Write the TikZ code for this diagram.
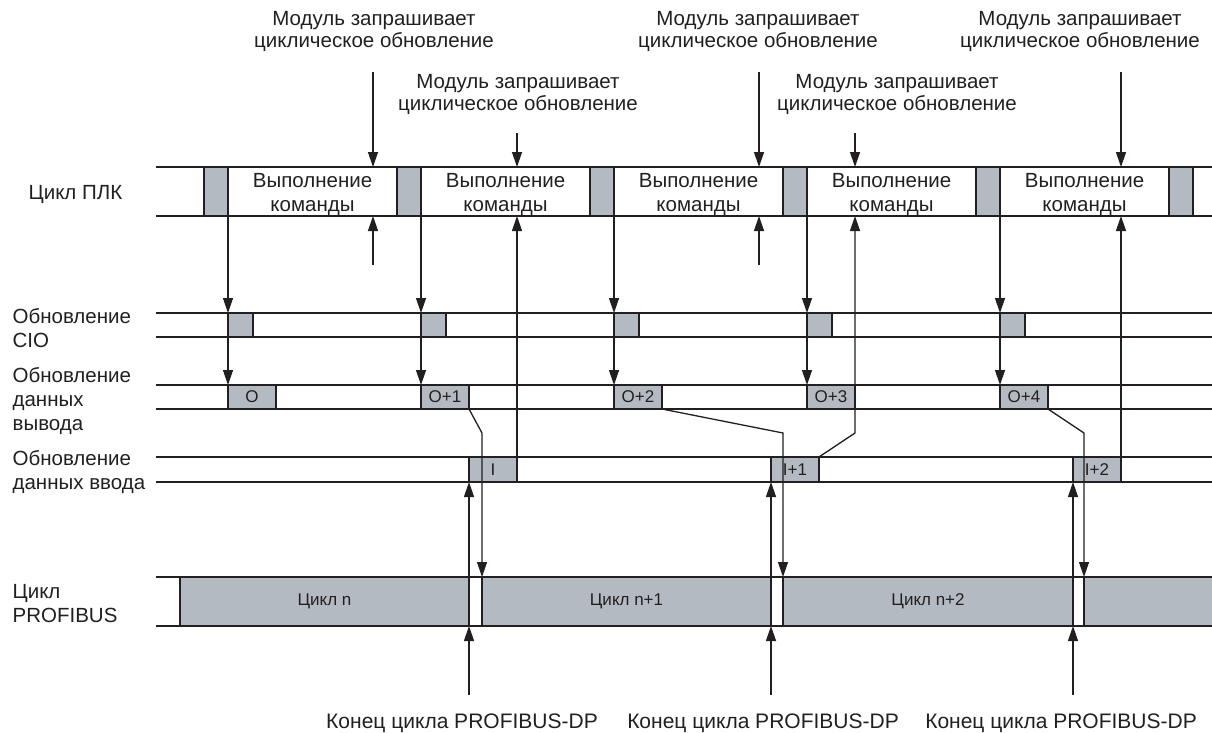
\documentclass[tikz,border=0pt]{standalone}
\usepackage{fontspec}
\setmainfont{Liberation Sans}
\usetikzlibrary{arrows.meta}
\definecolor{blkgray}{RGB}{180,186,194}
\definecolor{ink}{RGB}{35,31,32}

\tikzset{
  blk/.style={draw, fill=blkgray, inner sep=0pt, outer sep=0pt, anchor=north west, font=\fontsize{17}{19}\selectfont},
  lbl/.style={align=left, inner sep=0pt, anchor=north west, font=\fontsize{20.5}{24}\selectfont},
  req/.style={align=center, inner sep=0pt, font=\fontsize{20.5}{21.5}\selectfont},
  exe/.style={align=center, inner sep=0pt, font=\fontsize{20.5}{24.5}\selectfont},
  arr/.style={-{Triangle[length=15pt,width=10pt]}},
}

\begin{document}
\begin{tikzpicture}[x=1pt, y=-1pt, line width=1.3pt, color=ink]
    \useasboundingbox (0,0) rectangle (1212,732);

    % --- Linee delle righe ---
    \foreach \y/\name in {167/plcT, 216/plcB, 313/cioT, 337/cioB, 385/outT, 409/outB, 457/inT, 482/inB, 577/pbT, 626/pbB} {
        \coordinate (\name) at (156,\y);
        \draw (\name) -- (1212,\y);
    }
    \coordinate (mid) at (0,433);
    \coordinate (bot) at (0,695);

    % --- Ciclo PLC ---
    \node[lbl] (lplc) at (28,185) {Цикл ПЛК};
    \foreach \i/\x in {1/204, 2/397, 3/590, 4/783, 5/976, 6/1169}
        \node[blk, minimum width=24pt, minimum height=49pt] (plc\i) at (\x,167) {};
    \foreach \i/\x in {1/312.5, 2/505.5, 3/698.5, 4/891.5, 5/1084.5}
        \node[exe] (ex\i) at (\x,194.5) {Выполнение\\команды};

    % --- CIO ---
    \node[lbl] (lcio) at (12,308) {Обновление\\CIO};
    \foreach \i/\x in {1/228, 2/421, 3/614, 4/807, 5/1000}
        \node[blk, minimum width=25pt, minimum height=24pt] (cio\i) at (\x,313) {};

    % --- Dati di uscita ---
    \node[lbl] (lout) at (12,367) {Обновление\\данных\\вывода};
    \foreach \i/\x/\t in {1/228/O, 2/421/O+1, 3/614/O+2, 4/807/O+3, 5/1000/O+4}
        \node[blk, minimum width=48pt, minimum height=24pt] (out\i) at (\x,385) {\t};

    % --- Dati di ingresso ---
    \node[lbl] (lin) at (12,450) {Обновление\\данных ввода};
    \foreach \i/\x/\t in {1/469/I, 2/771/I+1, 3/1073/I+2}
        \node[blk, minimum width=48pt, minimum height=25pt] (in\i) at (\x,457) {\t};

    % --- Ciclo PROFIBUS ---
    \node[lbl] (lpb) at (12,584) {Цикл\\PROFIBUS};
    \foreach \i/\x/\w/\t in {1/180/289/Цикл n, 2/482/289/Цикл n+1, 3/783/290/Цикл n+2, 4/1084/140/}
        \node[blk, minimum width=\w pt, minimum height=49pt] (pb\i) at (\x,577) {\t};

    % --- Richieste del modulo ---
    \node[req] (rq1) at (374,31.5) {Модуль запрашивает\\циклическое обновление};
    \node[req] (rq2) at (518,94.5) {Модуль запрашивает\\циклическое обновление};
    \node[req] (rq3) at (758,31.5) {Модуль запрашивает\\циклическое обновление};
    \node[req] (rq4) at (897,94.5) {Модуль запрашивает\\циклическое обновление};
    \node[req] (rq5) at (1080,31.5) {Модуль запрашивает\\циклическое обновление};
    \foreach \i/\x/\y in {1/373/72, 2/517/133, 3/759/72, 4/855/133, 5/1121/72} {
        \coordinate (t\i) at (\x,\y);
        \draw[arr] (t\i) -- (t\i |- plcT);
    }
    \foreach \i/\x in {1/373, 2/759} {
        \coordinate (u\i) at (\x,265);
        \draw[arr] (u\i) -- (u\i |- plcB);
    }

    % --- PLC -> CIO -> uscita ---
    \foreach \i in {1,...,5} {
        \draw[arr] (plc\i.south east) -- (cio\i.north west);
        \draw[arr] (cio\i.south west) -- (out\i.north west);
    }

    % --- Ingresso -> PLC ---
    \draw[arr] (in1.north east) -- (in1.north east |- plcB);
    \draw[arr] (in2.north east) -- (out4.south east |- mid) -- (out4.south east |- plcB);
    \draw[arr] (in3.north east) -- (in3.north east |- plcB);

    % --- Uscita -> PROFIBUS ---
    \draw[arr] (out2.south east) -- (pb2.north west |- mid) -- (pb2.north west);
    \draw[arr] (out3.south east) -- (pb3.north west |- mid) -- (pb3.north west);
    \draw[arr] (out5.south east) -- (pb4.north west |- mid) -- (pb4.north west);

    % --- Fine ciclo PROFIBUS ---
    \foreach \i/\x in {1/462, 2/763, 3/1061} {
        \draw[arr] (pb\i.north east) -- (in\i.south west);
        \node[lbl, anchor=north, font=\fontsize{21}{24}\selectfont] (end\i) at (\x,713) {Конец цикла PROFIBUS-DP};
        \draw[arr] (pb\i.south east |- bot) -- (pb\i.south east);
    }

\end{tikzpicture}
\end{document}
